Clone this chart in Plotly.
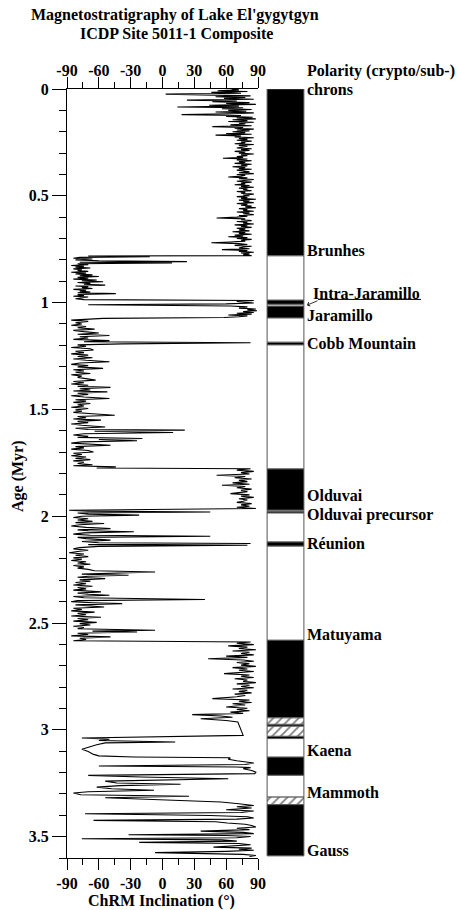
import plotly.graph_objects as go

# ---------------- data: ChRM inclination vs age ----------------
age_brunhes = [0.000, 0.004, 0.008, 0.012, 0.016, 0.020, 0.024, 0.028, 0.032, 0.036, 0.040, 0.044, 0.048, 0.052,
               0.056, 0.060, 0.064, 0.068, 0.072, 0.076, 0.080, 0.084, 0.088, 0.092, 0.096, 0.100, 0.104, 0.108,
               0.112, 0.116, 0.120, 0.124, 0.128, 0.132, 0.136, 0.140, 0.144, 0.148, 0.152, 0.156, 0.160, 0.164,
               0.168, 0.172, 0.176, 0.180, 0.184, 0.188, 0.192, 0.196, 0.200, 0.204, 0.208, 0.212, 0.216, 0.220,
               0.224, 0.228, 0.232, 0.236, 0.240, 0.244, 0.248, 0.252, 0.256, 0.260, 0.264, 0.268, 0.272, 0.276,
               0.280, 0.284, 0.288, 0.292, 0.296, 0.300, 0.304, 0.308, 0.312, 0.316, 0.320, 0.324, 0.328, 0.332,
               0.336, 0.340, 0.344, 0.348, 0.352, 0.356, 0.360, 0.364, 0.368, 0.372, 0.376, 0.380, 0.384, 0.388,
               0.392, 0.396, 0.400, 0.404, 0.408, 0.412, 0.416, 0.420, 0.424, 0.428, 0.432, 0.436, 0.440, 0.444,
               0.448, 0.452, 0.456, 0.460, 0.464, 0.468, 0.472, 0.476, 0.480, 0.484, 0.488, 0.492, 0.496, 0.500,
               0.504, 0.508, 0.512, 0.516, 0.520, 0.524, 0.528, 0.532, 0.536, 0.540, 0.544, 0.548, 0.552, 0.556,
               0.560, 0.564, 0.568, 0.572, 0.576, 0.580, 0.584, 0.588, 0.592, 0.596, 0.600, 0.604, 0.608, 0.612,
               0.616, 0.620, 0.624, 0.628, 0.632, 0.636, 0.640, 0.644, 0.648, 0.652, 0.656, 0.660, 0.664, 0.668,
               0.672, 0.676, 0.680, 0.684, 0.688, 0.692, 0.696, 0.700, 0.704, 0.708, 0.712, 0.716, 0.720, 0.724,
               0.728, 0.732, 0.736, 0.740, 0.744, 0.748, 0.752, 0.756, 0.760, 0.764, 0.768, 0.772, 0.776, 0.780]
inc_brunhes = [65, 72, 52, 80, 46, 74, 3, 66, 83, 50, 78, 58, 86, 23,
               70, 47, 82, 60, 88, 44, 72, 14, 76, 56, 84, 62, 79, 50,
               86, 64, 18, 74, 60, 85, 70, 88, 66, 80, 62, 86, 72, 78,
               64, 84, 47, 76, 68, 86, 70, 82, 66, 78, 60, 84, 50, 74,
               68, 86, 72, 80, 70, 84, 74, 78, 68, 86, 72, 80, 76, 70,
               84, 74, 82, 68, 78, 72, 86, 74, 80, 70, 76, 57, 80, 70,
               84, 72, 78, 68, 84, 74, 80, 66, 78, 72, 84, 70, 76, 82,
               72, 86, 70, 78, 74, 62, 80, 72, 86, 76, 70, 84, 74, 78,
               68, 82, 74, 86, 72, 80, 76, 84, 70, 78, 74, 86, 76, 82,
               70, 80, 74, 88, 72, 82, 76, 86, 70, 80, 74, 84, 78, 88,
               72, 80, 76, 86, 70, 82, 76, 86, 72, 80, 70, 51, 78, 74,
               84, 70, 80, 76, 86, 68, 80, 74, 84, 70, 78, 72, 82, 66,
               78, 72, 84, 68, 76, 62, 80, 70, 84, 74, 78, 64, 46, 72,
               80, 68, 84, 76, 72, 82, 56, 80, 72, 86, 74, 82, 76, 84]

age_matuyama_a = [0.782, 0.785, 0.788, 0.792, 0.796, 0.800, 0.804, 0.808, 0.811, 0.814, 0.818, 0.822, 0.826, 0.830,
                  0.834, 0.838, 0.842, 0.846, 0.850, 0.854, 0.858, 0.862, 0.866, 0.870, 0.874, 0.878, 0.882, 0.886,
                  0.890, 0.894, 0.898, 0.902, 0.906, 0.910, 0.914, 0.918, 0.922, 0.926, 0.930, 0.934, 0.938, 0.942,
                  0.946, 0.950, 0.954, 0.958, 0.962, 0.966, 0.970, 0.974, 0.978, 0.982, 0.986]
inc_matuyama_a = [-70, -12, -78, -84, -66, -82, -60, 23, -78, 9, -80, -70, -86, -74,
                  -82, -68, -84, -76, -80, -70, -86, -72, -82, -66, -78, -60, -80, -70,
                  -84, -62, -76, -56, -80, -68, -74, -54, -82, -70, -76, -66, -84, -72,
                  -78, -68, -80, -44, -80, -74, -84, -70, -78, -82, -74]

age_jaramillo = [0.990, 0.994, 0.998, 1.002, 1.006, 1.010, 1.016, 1.020, 1.026, 1.030, 1.034, 1.038, 1.042,
                 1.046, 1.050, 1.054, 1.058, 1.062, 1.066, 1.070]
inc_jaramillo = [86, 70, 82, 86, 60, -70, 64, 80, 72, 88, 80, 89, 76,
                 86, 70, 84, 62, 80, 72, 58]

age_matuyama_b = [1.074, 1.078, 1.082, 1.088, 1.094, 1.100, 1.106, 1.112, 1.118, 1.124, 1.130, 1.136, 1.142,
                  1.148, 1.154, 1.160, 1.166, 1.172, 1.178, 1.183, 1.188, 1.193, 1.198, 1.204, 1.210, 1.216,
                  1.222, 1.228, 1.234, 1.240, 1.246, 1.252, 1.258, 1.264, 1.270, 1.277, 1.283, 1.289, 1.295,
                  1.301, 1.308, 1.314, 1.320, 1.326, 1.332, 1.338, 1.344, 1.350, 1.356, 1.363, 1.369, 1.375,
                  1.381, 1.387, 1.392, 1.397, 1.403, 1.409, 1.414, 1.418, 1.424, 1.430, 1.436, 1.442, 1.449,
                  1.455, 1.461, 1.467, 1.472, 1.478, 1.484, 1.490, 1.496, 1.502, 1.508, 1.514, 1.520, 1.527,
                  1.533, 1.539, 1.545, 1.550, 1.556, 1.562, 1.568, 1.574, 1.582, 1.588, 1.594, 1.597, 1.602,
                  1.608, 1.614, 1.620, 1.626, 1.631, 1.636, 1.641, 1.647, 1.652, 1.658, 1.663, 1.668, 1.674,
                  1.680, 1.686, 1.692, 1.699, 1.705, 1.711, 1.717, 1.723, 1.729, 1.735, 1.741, 1.747, 1.753,
                  1.759, 1.764, 1.769, 1.774]
inc_matuyama_b = [-56, -80, -86, -70, -82, -76, -86, -72, -80, -64, -84, -74, -60,
                  -80, -50, -78, -70, -84, -50, -74, 83, -38, -80, -72, -86, -68,
                  -65, -82, -74, -86, -70, -80, -66, -84, -72, -50, -78, -86, -70,
                  -80, -56, -84, -74, -82, -68, -86, -76, -80, -70, -63, -84, -74,
                  -86, -70, -80, -49, -78, -68, -84, -52, -80, -70, -86, -74, -50,
                  -82, -72, -84, -68, -80, -74, -86, -70, -82, -76, -84, -66, -45,
                  -80, -72, -84, -58, -80, -70, -86, -76, -54, -82, -70, 21, -64,
                  10, -74, -84, -70, -80, -19, -60, -24, -76, -86, -70, -49, -82,
                  -74, -86, -70, -65, -84, -76, -86, -72, -82, -68, -84, -74, -80,
                  -66, -84, -44, -62]

age_olduvai = [1.778, 1.784, 1.790, 1.796, 1.802, 1.808, 1.814, 1.820, 1.826, 1.832, 1.838, 1.844, 1.850,
               1.855, 1.861, 1.867, 1.873, 1.879, 1.885, 1.890, 1.894, 1.900, 1.906, 1.912, 1.918, 1.924,
               1.930, 1.935, 1.941, 1.947, 1.953, 1.958, 1.964]
inc_olduvai = [83, 70, 86, 74, 82, 51, 78, 68, 84, 72, 80, 66, 82,
               56, 78, 70, 84, 74, 80, 68, 64, 82, 74, 86, 72, 80,
               76, 70, 84, 74, 82, 70, 88]

age_matuyama_c = [1.972, 1.976, 1.980, 1.985, 1.990, 1.995, 2.000, 2.006, 2.012, 2.018, 2.024, 2.030, 2.034,
                  2.040, 2.046, 2.052, 2.058, 2.064, 2.068, 2.073, 2.078, 2.084, 2.089, 2.094, 2.099, 2.105,
                  2.112, 2.118, 2.124, 2.128, 2.133, 2.136, 2.141, 2.147, 2.153, 2.159, 2.165, 2.171, 2.177,
                  2.183, 2.189, 2.195, 2.201, 2.207, 2.213, 2.219, 2.225, 2.231, 2.237, 2.243, 2.249, 2.255,
                  2.261, 2.266, 2.271, 2.276, 2.281, 2.286, 2.292, 2.298, 2.304, 2.310, 2.316, 2.322, 2.328,
                  2.334, 2.340, 2.346, 2.354, 2.360, 2.365, 2.370, 2.376, 2.382, 2.390, 2.395, 2.400, 2.405,
                  2.409, 2.415, 2.420, 2.425, 2.431, 2.437, 2.443, 2.449, 2.455, 2.461, 2.467, 2.473, 2.479,
                  2.485, 2.491, 2.497, 2.503, 2.509, 2.515, 2.521, 2.527, 2.534, 2.538, 2.542, 2.548, 2.554,
                  2.560, 2.565, 2.571, 2.577, 2.583]
inc_matuyama_c = [-88, -70, 45, -80, -70, -22, -76, -84, -70, -80, -66, -82, -55,
                  -78, -86, -72, -49, -80, -70, -27, -74, -84, -68, 45, -80, -72,
                  -49, -76, -60, 83, -70, 80, -60, -78, -84, -70, -80, -88, -74,
                  -82, -70, -84, -76, -86, -72, -80, -68, -84, -74, -80, -70, -64,
                  -7, -60, -76, -32, -70, -80, -54, -78, -68, -82, -72, -84, -66,
                  -80, -72, -84, -58, -80, -70, -50, -84, -74, 40, -80, -86, -66,
                  -38, -82, -72, -55, -84, -76, -86, -64, -80, -72, -86, -58, -80,
                  -70, -84, -62, -78, -68, -84, -74, -80, -7, -66, -24, -80, -70,
                  -86, -49, -78, -72, -84]

age_gauss = [2.589, 2.595, 2.601, 2.607, 2.613, 2.619, 2.625, 2.631, 2.637, 2.643, 2.649, 2.655, 2.661,
             2.667, 2.673, 2.679, 2.685, 2.691, 2.697, 2.703, 2.709, 2.715, 2.721, 2.727, 2.733, 2.737,
             2.743, 2.749, 2.755, 2.761, 2.767, 2.773, 2.779, 2.785, 2.791, 2.797, 2.803, 2.809, 2.815,
             2.821, 2.827, 2.833, 2.839, 2.845, 2.854, 2.860, 2.866, 2.872, 2.878, 2.884, 2.893, 2.899,
             2.905, 2.911, 2.917, 2.923, 2.929, 2.935, 2.941, 2.948, 2.956, 2.963, 3.026, 3.038, 3.044,
             3.050, 3.057, 3.061, 3.070, 3.080, 3.091, 3.101, 3.115, 3.122, 3.127, 3.131, 3.138, 3.145,
             3.155, 3.162, 3.169, 3.174, 3.177, 3.182, 3.190, 3.198, 3.205, 3.213, 3.221, 3.229, 3.235,
             3.240, 3.249, 3.255, 3.261, 3.268, 3.276, 3.283, 3.290, 3.296, 3.304, 3.311, 3.318, 3.326,
             3.332, 3.338, 3.346, 3.354, 3.360, 3.366, 3.374, 3.380, 3.387, 3.393, 3.401, 3.407, 3.413,
             3.418, 3.424, 3.430, 3.436, 3.442, 3.448, 3.455, 3.461, 3.467, 3.474, 3.480, 3.486, 3.491,
             3.495, 3.499, 3.505, 3.510, 3.515, 3.521, 3.527, 3.532, 3.538, 3.543, 3.549, 3.554, 3.559,
             3.564, 3.569, 3.575, 3.580, 3.583, 3.588, 3.593]
inc_gauss = [83, 70, 86, 62, 80, 72, 88, 66, 82, 74, 86, 60, 80,
             43, 76, 86, 70, 82, 74, 88, 66, 80, 72, 86, 70, 58,
             82, 74, 86, 68, 80, 76, 88, 70, 82, 74, 86, 66, 80,
             72, 84, 68, 78, 70, 47, 82, 72, 84, 66, 78, 60, 80,
             70, 82, 64, 76, 28, 55, 66, 36, 60, 71, 76, -76, -50,
             -60, 12, -54, -62, -70, -76, -70, -65, -60, -27, 64, 62, 70,
             86, 78, -60, 70, 83, 76, 84, 88, 87, -70, -20, 62, -30,
             -54, -43, 17, -40, -62, -48, -8, -70, -84, -77, 25, -54, -10,
             30, 55, 72, 86, 70, 84, 60, 86, 74, -73, 45, 80, 86,
             70, -65, 50, 61, 78, 84, 88, 70, 82, 36, 76, 86, -32,
             60, 83, 70, -76, 56, 70, -22, 72, 83, 66, 48, 84, 72,
             86, 60, -7, 70, 76, 88, 82]

ages = age_brunhes + age_matuyama_a + age_jaramillo + age_matuyama_b + age_olduvai + age_matuyama_c + age_gauss
incs = inc_brunhes + inc_matuyama_a + inc_jaramillo + inc_matuyama_b + inc_olduvai + inc_matuyama_c + inc_gauss

# ---------------- data: polarity column ----------------
chron_top = [0.000, 0.781, 0.988, 1.008, 1.016, 1.072, 1.185, 1.198, 1.778, 1.972, 1.977, 1.985,
             2.120, 2.140, 2.580, 2.944, 2.974, 2.983, 3.030, 3.041, 3.127, 3.213, 3.315, 3.350]
chron_base = [0.781, 0.988, 1.008, 1.016, 1.072, 1.185, 1.198, 1.778, 1.972, 1.977, 1.985, 2.120,
              2.140, 2.580, 2.944, 2.974, 2.983, 3.030, 3.041, 3.127, 3.213, 3.315, 3.350, 3.590]
chron_kind = ['N', 'R', 'N', 'R', 'N', 'R', 'N', 'R', 'N', 'R', 'N', 'R',
              'N', 'R', 'N', 'H', 'N', 'H', 'N', 'R', 'N', 'R', 'H', 'N']

label_text = ['Brunhes', 'Jaramillo', 'Cobb Mountain', 'Olduvai', 'Olduvai precursor', 'Réunion',
              'Matuyama', 'Kaena', 'Mammoth', 'Gauss']
label_age = [0.754, 1.059, 1.190, 1.904, 1.993, 2.127, 2.557, 3.096, 3.293, 3.565]

x_tickvals = [-90, -60, -30, 0, 30, 60, 90]
x_ticktext = ['-90', '-60', '-30', '0', '30', '60', '90']
x_minor = [-75, -45, -15, 15, 45, 75]
y_tickvals = [0, 0.5, 1, 1.5, 2, 2.5, 3, 3.5]
y_ticktext = ['0', '0.5', '1', '1.5', '2', '2.5', '3', '3.5']

# ---------------- figure ----------------
FONT = 'Liberation Serif'
FS = 16
fig = go.Figure()

fig.add_trace(go.Scatter(x=incs, y=ages, mode='lines', xaxis='x', yaxis='y',
                         line=dict(color='black', width=1.1), hoverinfo='skip'))
fig.add_trace(go.Scatter(x=[-90, 90], y=[0, 0], mode='markers', xaxis='x3', yaxis='y',
                         marker=dict(opacity=0), hoverinfo='skip'))

styles = {
    'N': dict(color='black'),
    'R': dict(color='white'),
    'H': dict(color='white', pattern=dict(shape='/', fgcolor='black', bgcolor='white',
                                          size=6, solidity=0.3)),
}
for kind in ['N', 'R', 'H']:
    idx = [i for i, k in enumerate(chron_kind) if k == kind]
    fig.add_trace(go.Bar(
        x=[0.5] * len(idx),
        y=[chron_base[i] - chron_top[i] for i in idx],
        base=[chron_top[i] for i in idx],
        width=[1] * len(idx),
        xaxis='x2', yaxis='y',
        marker=dict(line=dict(color='#555555', width=1), **styles[kind]),
        hoverinfo='skip'))

L, R = 67, 153
PW = 458 - L - R  # 238
T, B = 89, 52
PH = 910 - T - B


def px_x(p):
    return (p - L) / PW


def px_y(p):
    return (910 - B - p) / PH


bold = dict(family=FONT, size=FS, color='black', weight='bold')

common_x = dict(range=[-90, 90], tickmode='array', tickvals=x_tickvals, ticktext=x_ticktext,
                ticks='outside', ticklen=11, tickwidth=1, tickcolor='black',
                showline=True, linecolor='black', linewidth=1, showgrid=False, zeroline=False,
                tickfont=bold,
                minor=dict(tickvals=x_minor, ticks='outside', ticklen=6, tickwidth=1,
                           tickcolor='black', showgrid=False))

fig.update_layout(
    width=458, height=910,
    margin=dict(l=L, r=R, t=T, b=B),
    plot_bgcolor='white', paper_bgcolor='white',
    showlegend=False, barmode='overlay', hovermode=False,
    font=bold,
    xaxis=dict(domain=[0, px_x(258)], side='top', anchor='y', ticklabelstandoff=-5, **common_x),
    xaxis3=dict(overlaying='x', side='bottom', anchor='y', **common_x),
    xaxis2=dict(domain=[px_x(266), 1.0], range=[-0.03, 1.03], anchor='y', visible=False),
    yaxis=dict(domain=[0, 1], range=[3.6, 0], anchor='x', tickmode='array',
               tickvals=y_tickvals, ticktext=y_ticktext, ticks='outside', ticklen=14,
               tickwidth=1, tickcolor='black', showline=True, linecolor='black', linewidth=1,
               showgrid=False, zeroline=False, tickfont=bold,
               minor=dict(dtick=0.1, tick0=0, ticks='outside', ticklen=7, tickwidth=1,
                          tickcolor='black', showgrid=False)),
)

ann = []
ann.append(dict(text="Magnetostratigraphy of Lake El'gygytgyn", x=px_x(175), y=px_y(15),
                xref='paper', yref='paper', xanchor='center', yanchor='middle', showarrow=False, font=bold))
ann.append(dict(text="ICDP Site 5011-1 Composite", x=px_x(176), y=px_y(34),
                xref='paper', yref='paper', xanchor='center', yanchor='middle', showarrow=False, font=bold))
ann.append(dict(text="Polarity (crypto/sub-)", x=px_x(306), y=px_y(71),
                xref='paper', yref='paper', xanchor='left', yanchor='middle', showarrow=False, font=bold,
                borderpad=0))
ann.append(dict(text="chrons", x=px_x(306), y=px_y(89),
                xref='paper', yref='paper', xanchor='left', yanchor='middle', showarrow=False, font=bold,
                borderpad=0))
ann.append(dict(text="ChRM Inclination (°)", x=px_x(161), y=px_y(901),
                xref='paper', yref='paper', xanchor='center', yanchor='middle', showarrow=False, font=bold))
ann.append(dict(text="Age (Myr)", x=px_x(18), y=px_y(476), textangle=-90,
                xref='paper', yref='paper', xanchor='center', yanchor='middle', showarrow=False,
                font=dict(family=FONT, size=FS, color='black', weight='bold')))
for t, a in zip(label_text, label_age):
    ann.append(dict(text=t, x=px_x(306), y=a, xref='paper', yref='y', xanchor='left',
                    yanchor='middle', showarrow=False, font=bold, borderpad=0))
ann.append(dict(text='Intra-Jaramillo', x=px_x(312), y=0.955, xref='paper', yref='y', xanchor='left',
                yanchor='middle', showarrow=False, font=bold, borderpad=0))
ann.append(dict(text='', x=px_x(307), y=1.012, xref='paper', yref='y', showarrow=True,
                ax=12, ay=-5, axref='pixel', ayref='pixel', arrowhead=4, arrowsize=1,
                arrowwidth=0.8, arrowcolor='black'))
fig.update_layout(annotations=ann)

fig.add_shape(type='line', xref='paper', yref='y', x0=px_x(318), x1=px_x(421), y0=0.985, y1=0.985,
              line=dict(color='black', width=1))

fig.write_html("out.html")
